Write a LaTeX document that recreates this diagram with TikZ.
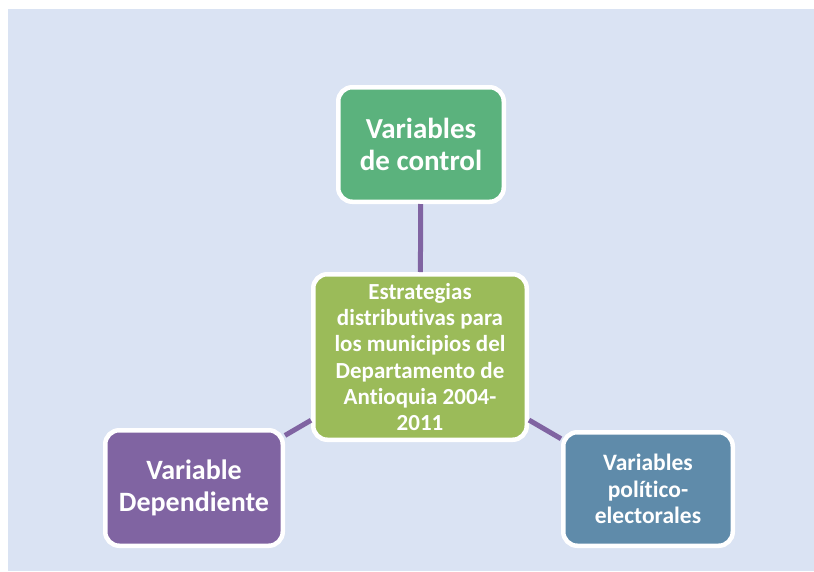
\documentclass[tikz,border=0pt]{standalone}
\usepackage{fontspec}
\setmainfont{Carlito}[Ligatures=NoCommon]
\definecolor{bgblue}{RGB}{218,227,243}
\definecolor{ctrlgreen}{RGB}{91,178,125}
\definecolor{maingreen}{RGB}{155,187,89}
\definecolor{varpurple}{RGB}{128,100,162}
\definecolor{polblue}{RGB}{95,139,170}
\begin{document}
\begin{tikzpicture}[x=1pt,y=-1pt,
  box/.style={draw=white,line width=4.5pt,rounded corners=14pt,align=center,text=white,font=\bfseries},
  link/.style={draw=varpurple,line width=5pt}]
\useasboundingbox (0,0) rectangle (814,571);
\fill[bgblue] (8,9) rectangle (814,571);
\node[box,fill=maingreen,minimum width=213.5pt,minimum height=165.5pt,font=\bfseries\fontsize{23}{26.3}\selectfont] (estr) at (420,357) {Estrategias\\distributivas para\\los municipios del\\Departamento de\\Antioquia 2004-\\2011};
\node[box,fill=ctrlgreen,minimum width=165.5pt,minimum height=114.5pt,font=\bfseries\fontsize{29}{32}\selectfont] (ctrl) at (421,144.5) {Variables\\de control};
\node[box,fill=varpurple,minimum width=177.5pt,minimum height=115.5pt,font=\bfseries\fontsize{28}{32}\selectfont] (dep) at (194,488) {Variable\\Dependiente};
\node[box,fill=polblue,minimum width=169.5pt,minimum height=113.5pt,font=\bfseries\fontsize{23.5}{26.5}\selectfont] (pol) at (648,489) {Variables\\político-\\electorales};
\draw[link] (estr) -- (ctrl);
\draw[link] (estr) -- (dep);
\draw[link] (estr) -- (pol);
\end{tikzpicture}
\end{document}
